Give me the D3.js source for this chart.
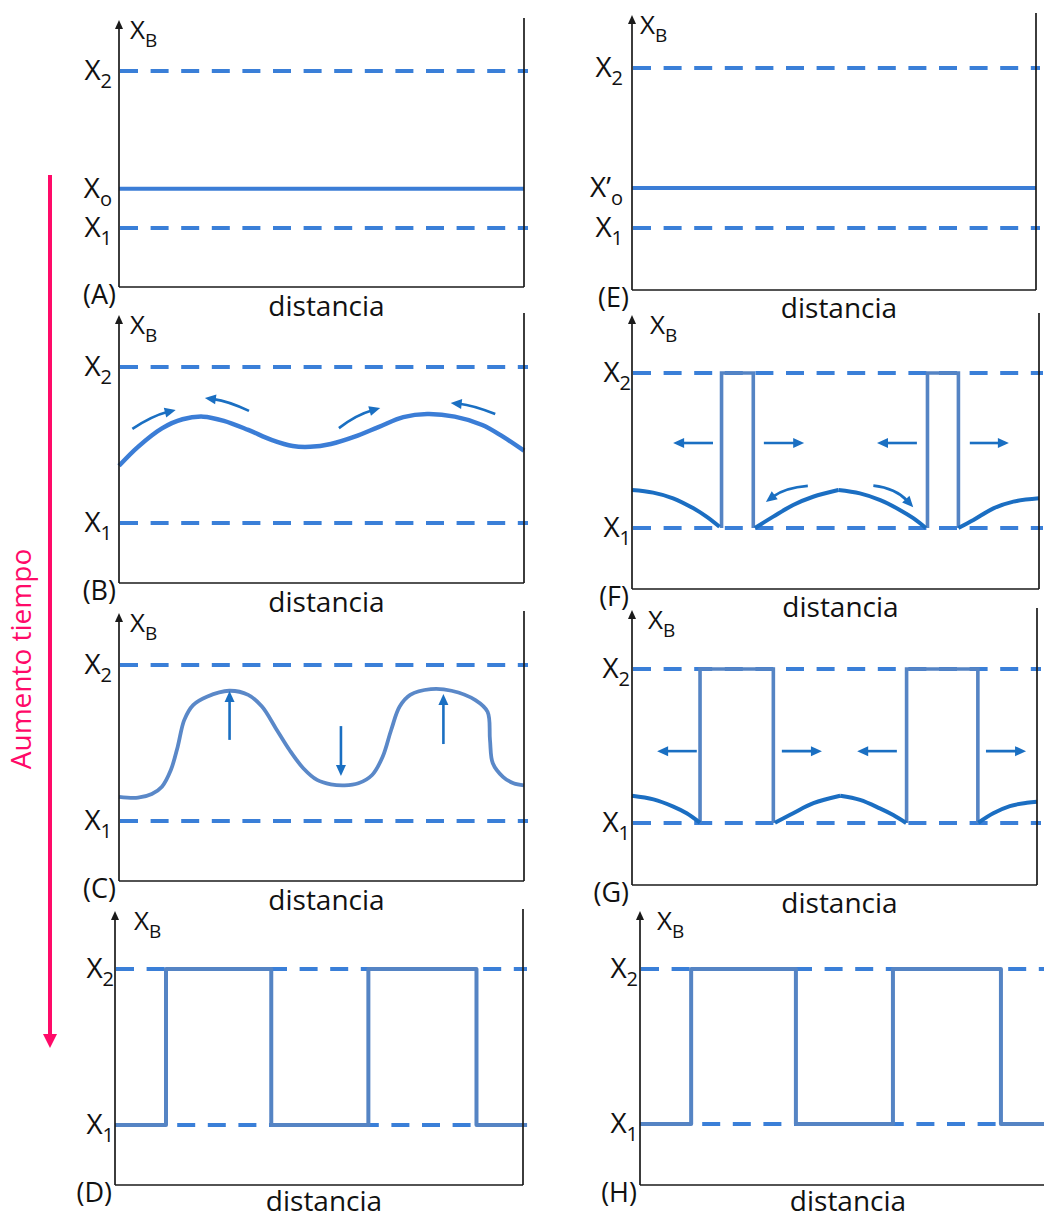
<!DOCTYPE html>
<html><head><meta charset="utf-8">
<script src="https://cdn.jsdelivr.net/npm/d3@7/dist/d3.min.js"></script>
<style>
body{margin:0;background:#fff}
svg{display:block}
text{font-family:"Open Sans",sans-serif;fill:#111}
</style>
</head><body>
<svg id="c" width="1044" height="1219"></svg>
<script>
// ================= DATA =================
const levelX1 = 20, levelX2 = 80, levelX0 = 35;
const panelIds = ["A","B","C","D","E","F","G","H"];
const xAxisTitle = "distancia";
const yAxisTitle = {main:"X", sub:"B"};
const timeLabel = "Aumento tiempo";

const ticksA = [{main:"X", sub:"2", v:80},{main:"X", sub:"o", v:35},{main:"X", sub:"1", v:20}];
const ticksE = [{main:"X", sub:"2", v:80},{main:"X\u2019", sub:"o", v:35},{main:"X", sub:"1", v:20}];
const ticksStd = [{main:"X", sub:"2", v:80},{main:"X", sub:"1", v:20}];

// (A), (E): flat initial composition
const flatA = [[0,35],[100,35]];
const flatE = [[0,35],[100,35]];

// (B): small fluctuation
const curveB = [[0,42.0],[4.7,49.3],[10.6,56.4],[15.7,59.9],[20.8,60.9],[25.9,59.3],[31.9,55.8],[37.8,51.9],[42.9,49.6],[47.2,49.3],[52.3,50.4],[58.2,53.2],[64.2,57.0],[70.2,60.7],[76.1,61.9],[82.9,60.9],[89.7,57.7],[94.8,53.2],[100,47.8]];
const arrowsB = [
  {from:[3.3,56.2], via:[8.2,61.2], to:[14.0,63.5]},
  {from:[32.1,63.1], via:[27.0,66.9], to:[21.2,68.1]},
  {from:[54.3,56.5], via:[58.5,61.6], to:[64.5,64.2]},
  {from:[92.9,61.9], via:[87.3,65.3], to:[81.9,66.2]}
];

// (C): amplified fluctuation
const curveC = [[0,29.3],[4.7,29.0],[8.1,30.4],[10.6,33.2],[12.8,39.6],[14.5,48.6],[16.1,58.8],[18.3,64.6],[21.7,67.8],[27.2,70.1],[31.9,68.5],[35.3,64.0],[38.7,55.7],[42.1,47.3],[45.5,40.3],[48.9,35.8],[52.3,34.1],[55.7,33.7],[59.1,34.5],[62.5,37.7],[65.1,44.7],[67.2,55.0],[69.3,64.0],[71.9,68.5],[77.0,70.7],[82.1,70.1],[88.0,66.5],[91.0,62.0],[91.6,51.2],[92.3,42.2],[94.8,37.0],[97.4,34.5],[100,33.7]];
const arrowsC = [
  {from:[27.3,51.2], to:[27.3,70.0]},
  {from:[54.8,56.5], to:[54.8,37.3]},
  {from:[80.1,49.6], to:[80.1,68.8]}
];

// (D), (H): final two-phase profile
const stepsD = [[0,20],[12.5,20],[12.5,80],[38.3,80],[38.3,20],[62.1,20],[62.1,80],[88.6,80],[88.6,20],[101,20]];
const stepsH = [[0,20],[12.6,20],[12.6,80],[38.4,80],[38.4,20],[62.3,20],[62.3,80],[88.9,80],[88.9,20],[100,20]];

// (F): nucleation
const curvesF = [
  [[0,34.7],[5.2,33.7],[10.1,31.5],[15.1,27.6],[18.3,24.4],[21.5,20.5]],
  [[30.2,20],[34.7,24.4],[39.6,28.9],[44.5,32.1],[50.7,34.7]],
  [[50.7,34.7],[56.0,33.4],[61.0,30.8],[65.8,27.0],[69.1,23.8],[72.2,20]],
  [[80.2,20],[83.9,23.1],[88.8,27.6],[93.7,30.2],[100,31.5]]
];
const nucleiF = [[22.0,29.8],[72.6,80.2]];
const arrowsF = [
  {from:[19.9,52.9], to:[10.1,52.9]},
  {from:[32.4,52.9], to:[42.3,52.9]},
  {from:[70.0,52.9], to:[60.2,52.9]},
  {from:[83.0,52.9], to:[92.6,52.9]},
  {from:[43.2,36.3], via:[37.6,35.6], to:[32.9,30.1]},
  {from:[59.3,36.4], via:[64.8,35.4], to:[69.1,28.0]}
];

// (G): growth
const curvesG = [
  [[0,30.6],[5.3,29.2],[10.2,26.4],[13.5,23.8],[16.8,20.1]],
  [[35.3,20.1],[39.8,23.8],[44.8,27.7],[51.4,30.6]],
  [[51.4,30.6],[56.3,29.0],[61.2,25.7],[64.5,23.1],[67.7,20]],
  [[85.5,20.1],[89.2,23.8],[93.3,26.6],[97.5,27.9],[100,28.3]]
];
const nucleiG = [[16.8,34.9],[67.8,85.4]];
const arrowsG = [
  {from:[16.0,48.0], to:[6.2,48.0]},
  {from:[37.0,48.0], to:[46.9,48.0]},
  {from:[65.4,48.0], to:[55.6,48.0]},
  {from:[87.4,48.0], to:[97.3,48.0]}
];

// ================= LAYOUT / STYLE =================
const layout = {
  A:{left:119,right:524,tip:20, bottom:287, yX1:228, yX2:71, tickGap:7, xbDx:11, border:true, titleDy:29},
  B:{left:119,right:524,tip:315,bottom:583, yX1:523, yX2:367,tickGap:7, xbDx:11, border:true, titleDy:29},
  C:{left:119,right:524,tip:613,bottom:881, yX1:821, yX2:665,tickGap:7, xbDx:11, border:true, titleDy:29},
  D:{left:115,right:523,tip:911,bottom:1185,yX1:1125,yX2:969,tickGap:1, xbDx:19, border:true, titleDy:26},
  E:{left:632,right:1036,tip:15,bottom:290, yX1:228, yX2:68, tickGap:9, xbDx:8, border:true, titleDy:28},
  F:{left:632,right:1039,tip:315,bottom:589, yX1:528, yX2:373,tickGap:1, xbDx:18, border:true, titleDy:28},
  G:{left:632,right:1037,tip:610,bottom:885, yX1:823, yX2:669,tickGap:2, xbDx:16, border:true, titleDy:28},
  H:{left:640,right:1046,tip:911,bottom:1185,yX1:1124,yX2:969,tickGap:2, xbDx:17, border:false, titleDy:26}
};
const COL = {dash:"#3a7fd8", solid:"#3b7dd6", curveC:"#5a88c8", step:"#5584c4", curveFG:"#1b6ec2", arrow:"#1a6fc2", axis:"#1a1a1a", pink:"#ff0a68"};

const svg = d3.select("#c");

function arrowHead(g, tip, ang, len, half, color){
  const bx = tip[0] - len*Math.cos(ang), by = tip[1] - len*Math.sin(ang);
  const px = -Math.sin(ang)*half, py = Math.cos(ang)*half;
  g.append("path").attr("d", `M${tip[0]},${tip[1]}L${bx+px},${by+py}L${bx-px},${by-py}Z`).attr("fill", color);
}

function drawArrows(g, arrows, x, y){
  arrows.forEach(a => {
    const p0 = [x(a.from[0]), y(a.from[1])], p2 = [x(a.to[0]), y(a.to[1])];
    let ang, path = d3.path();
    const len = 11;
    if (a.via){
      const p1 = [x(a.via[0]), y(a.via[1])];
      ang = Math.atan2(p2[1]-p1[1], p2[0]-p1[0]);
      const e = [p2[0]-len*0.8*Math.cos(ang), p2[1]-len*0.8*Math.sin(ang)];
      path.moveTo(p0[0],p0[1]); path.quadraticCurveTo(p1[0],p1[1],e[0],e[1]);
    } else {
      ang = Math.atan2(p2[1]-p0[1], p2[0]-p0[0]);
      const e = [p2[0]-len*0.8*Math.cos(ang), p2[1]-len*0.8*Math.sin(ang)];
      path.moveTo(p0[0],p0[1]); path.lineTo(e[0],e[1]);
    }
    g.append("path").attr("d", path.toString()).attr("fill","none").attr("stroke",COL.arrow).attr("stroke-width",2.6);
    arrowHead(g, p2, ang, len, 5, COL.arrow);
  });
}

const panelContent = {
  A:{ticks:ticksA, lines:[{pts:flatA, color:COL.solid, w:4, curve:d3.curveLinear}]},
  E:{ticks:ticksE, lines:[{pts:flatE, color:COL.solid, w:4, curve:d3.curveLinear}]},
  B:{ticks:ticksStd, lines:[{pts:curveB, color:COL.solid, w:4.5, curve:d3.curveCatmullRom}], arrows:arrowsB},
  C:{ticks:ticksStd, lines:[{pts:curveC, color:COL.curveC, w:3.8, curve:d3.curveCatmullRom}], arrows:arrowsC},
  D:{ticks:ticksStd, lines:[{pts:stepsD, color:COL.step, w:4, curve:d3.curveLinear}]},
  H:{ticks:ticksStd, lines:[{pts:stepsH, color:COL.step, w:4, curve:d3.curveLinear}]},
  F:{ticks:ticksStd, nuclei:nucleiF, lines:curvesF.map(p=>({pts:p, color:COL.curveFG, w:4, curve:d3.curveCatmullRom})), arrows:arrowsF},
  G:{ticks:ticksStd, nuclei:nucleiG, lines:curvesG.map(p=>({pts:p, color:COL.curveFG, w:4, curve:d3.curveCatmullRom})), arrows:arrowsG}
};

panelIds.forEach(id => {
  const L = layout[id], C = panelContent[id];
  const x = d3.scaleLinear().domain([0,100]).range([L.left, L.right]);
  const y = d3.scaleLinear().domain([levelX1, levelX2]).range([L.yX1, L.yX2]);
  const g = svg.append("g").attr("class","panel-"+id);

  // dashed equilibrium compositions
  [levelX2, levelX1].forEach(v => {
    g.append("line").attr("x1", L.left+1).attr("x2", Math.min(L.right+4, 1044))
      .attr("y1", y(v)).attr("y2", y(v))
      .attr("stroke", COL.dash).attr("stroke-width", 4).attr("stroke-dasharray","18,12.6");
  });

  // nuclei (rectangles of phase at X2)
  (C.nuclei||[]).forEach(n => {
    const pts = [[n[0],levelX1],[n[0],levelX2],[n[1],levelX2],[n[1],levelX1]];
    g.append("path").attr("d", d3.line().x(d=>x(d[0])).y(d=>y(d[1]))(pts))
      .attr("fill","none").attr("stroke",COL.step).attr("stroke-width",3.6);
  });

  // composition profiles
  C.lines.forEach(l => {
    g.append("path").attr("d", d3.line().curve(l.curve).x(d=>x(d[0])).y(d=>y(d[1]))(l.pts))
      .attr("fill","none").attr("stroke",l.color).attr("stroke-width",l.w).attr("stroke-linejoin","round");
  });

  if (C.arrows) drawArrows(g, C.arrows, x, y);

  // axes
  g.append("line").attr("x1",L.left).attr("x2",L.left).attr("y1",L.bottom).attr("y2",L.tip+6)
    .attr("stroke",COL.axis).attr("stroke-width",1.7);
  g.append("path").attr("d",`M${L.left},${L.tip}L${L.left-4},${L.tip+9}L${L.left+4},${L.tip+9}Z`).attr("fill",COL.axis);
  g.append("line").attr("x1",L.left).attr("x2",Math.min(L.right,1046)).attr("y1",L.bottom).attr("y2",L.bottom)
    .attr("stroke",COL.axis).attr("stroke-width",1.7);
  if (L.border) g.append("line").attr("x1",L.right).attr("x2",L.right).attr("y1",L.tip-2).attr("y2",L.bottom)
    .attr("stroke",COL.axis).attr("stroke-width",1.7);

  // tick labels
  C.ticks.forEach(t => {
    const tx = g.append("text").attr("x", L.left - L.tickGap).attr("y", y(t.v)+9)
      .attr("text-anchor","end").attr("font-size",28).text(t.main);
    tx.append("tspan").attr("font-size",20).attr("dy",8).text(t.sub);
  });

  // y-axis title
  const yt = g.append("text").attr("x", L.left + L.xbDx).attr("y", L.tip+19).attr("font-size",26).text(yAxisTitle.main);
  yt.append("tspan").attr("font-size",19).attr("dy",8).text(yAxisTitle.sub);

  // x-axis title
  g.append("text").attr("x", (L.left+L.right)/2 + 5).attr("y", L.bottom+L.titleDy)
    .attr("text-anchor","middle").attr("font-size",28).text(xAxisTitle);

  // panel letter
  g.append("text").attr("x", L.left-3).attr("y", L.bottom+17)
    .attr("text-anchor","end").attr("font-size",27).text("("+id+")");
});

// time arrow
svg.append("line").attr("x1",50).attr("x2",50).attr("y1",175).attr("y2",1037)
  .attr("stroke",COL.pink).attr("stroke-width",4);
svg.append("path").attr("d","M43,1034L57,1034L50,1048Z").attr("fill",COL.pink);
svg.append("text").attr("transform","translate(31,659) rotate(-90)").attr("text-anchor","middle")
  .attr("font-size",28).style("fill",COL.pink).text(timeLabel);
</script>
</body></html>
